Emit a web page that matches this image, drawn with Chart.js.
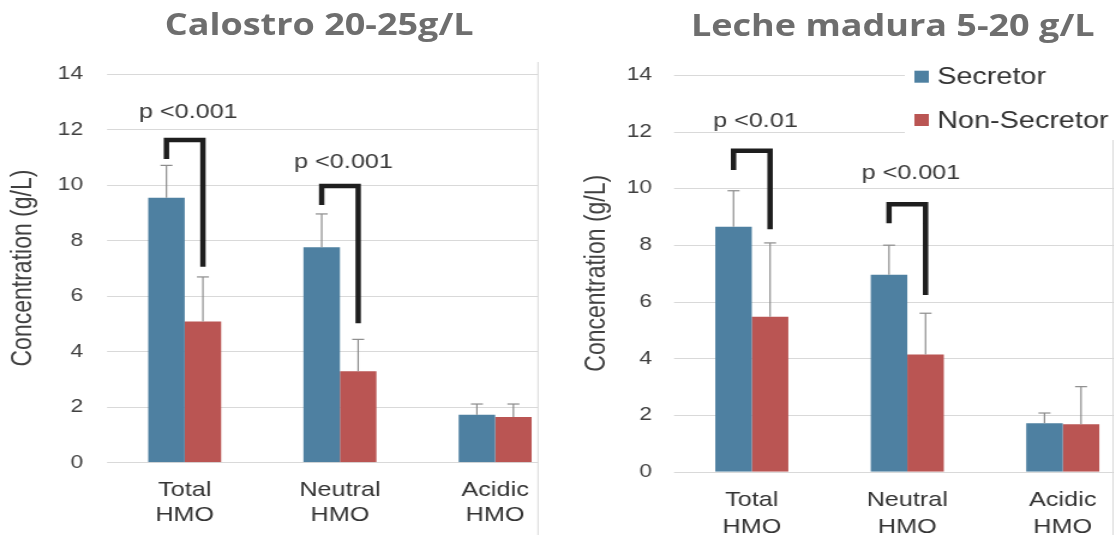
<!DOCTYPE html>
<html>
<head>
<meta charset="utf-8">
<script src="https://cdn.jsdelivr.net/npm/chart.js@4"></script>
<style>
  html, body { margin: 0; padding: 0; background: #fff; overflow: hidden; width: 1114px; height: 535px; }
  #wrap { position: absolute; left: 0; top: 0; width: 970px; height: 535px; transform: scaleX(1.2); transform-origin: 0 0; }
  canvas { position: absolute; top: 0; }
  .title { position: absolute; font-family: "Open Sans", sans-serif; font-weight: 700; font-size: 30px; line-height: 1; color: #6e6e6e; white-space: nowrap; transform: translateX(-50%); }
</style>
</head>
<body>
<div id="wrap">
  <canvas id="c1" width="480" height="535" style="left:0"></canvas>
  <canvas id="c2" width="500" height="535" style="left:470px"></canvas>
  <div class="title" style="left:266px; top:9px">Calostro 20-25g/L</div>
  <div class="title" style="left:744px; top:10px">Leche madura 5-20 g/L</div>
</div>
<script>
var categories = [["Total", "HMO"], ["Neutral", "HMO"], ["Acidic", "HMO"]];
var seriesNames = ["Secretor", "Non-Secretor"];
var yTicks = [0, 2, 4, 6, 8, 10, 12, 14];

// calostro
var calSecretor = [9.53, 7.75, 1.71];
var calNonSecretor = [5.07, 3.28, 1.63];
var calSecretorSD = [1.17, 1.2, 0.39];
var calNonSecretorSD = [1.61, 1.15, 0.47];
var calPText = ["p <0.001", "p <0.001"];
var calPY = [12.63, 10.83];
var calBracketTop = [11.61, 9.96];
var calBracketLeft = [10.93, 9.27];
var calBracketRight = [7.05, 5.01];

// leche madura
var matSecretor = [8.64, 6.95, 1.71];
var matNonSecretor = [5.47, 4.13, 1.67];
var matSecretorSD = [1.27, 1.04, 0.36];
var matNonSecretorSD = [2.6, 1.46, 1.33];
var matPText = ["p <0.01", "p <0.001"];
var matPY = [12.35, 10.53];
var matBracketTop = [11.32, 9.43];
var matBracketLeft = [10.64, 8.76];
var matBracketRight = [8.55, 6.23];

var blue = "#4e80a1";
var red = "#ba5553";
var font = "'Liberation Sans', Arial, sans-serif";

function line(ctx, x1, y1, x2, y2) {
  ctx.beginPath();
  ctx.moveTo(x1, y1);
  ctx.lineTo(x2, y2);
  ctx.stroke();
}

var extras = {
  id: "extras",
  beforeDatasetsDraw: function(chart, args, o) {
    var ctx = chart.ctx, y = chart.scales.y, area = chart.chartArea;
    ctx.save();
    ctx.strokeStyle = "#d9d9d9";
    ctx.lineWidth = 1;
    yTicks.forEach(function(v) {
      var py = Math.round(y.getPixelForValue(v)) + 0.5;
      line(ctx, area.left, py, o.gridEnd || chart.width, py);
    });
    line(ctx, o.frameX, o.frameTop, o.frameX, chart.height);
    ctx.restore();
  },
  afterDatasetsDraw: function(chart, args, o) {
    var ctx = chart.ctx, x = chart.scales.x, y = chart.scales.y;
    var m0 = chart.getDatasetMeta(0), m1 = chart.getDatasetMeta(1);
    ctx.save();
    // error bars
    ctx.strokeStyle = "#8c8c8c";
    ctx.lineWidth = 1.2;
    chart.data.datasets.forEach(function(ds, i) {
      chart.getDatasetMeta(i).data.forEach(function(bar, j) {
        var top = y.getPixelForValue(ds.data[j] + ds.sd[j]);
        line(ctx, bar.x, bar.y, bar.x, top);
        line(ctx, bar.x - 5, top, bar.x + 5, top);
      });
    });
    // brackets
    ctx.strokeStyle = "#1e1e1e";
    ctx.lineWidth = 4.5;
    ctx.lineJoin = "miter";
    o.bracketTop.forEach(function(t, j) {
      var xl = m0.data[j].x, xr = m1.data[j].x, yt = y.getPixelForValue(t);
      ctx.beginPath();
      ctx.moveTo(xl, y.getPixelForValue(o.bracketLeft[j]));
      ctx.lineTo(xl, yt);
      ctx.lineTo(xr, yt);
      ctx.lineTo(xr, y.getPixelForValue(o.bracketRight[j]));
      ctx.stroke();
    });
    // p values
    ctx.fillStyle = "#3a3a3a";
    ctx.font = "21px " + font;
    ctx.textAlign = "center";
    ctx.textBaseline = "middle";
    o.pText.forEach(function(t, j) {
      ctx.fillText(t, x.getPixelForValue(j) + 3, y.getPixelForValue(o.pY[j]));
    });
    // legend
    if (o.legend) {
      var L = o.legend;
      ctx.fillStyle = "#fff";
      ctx.fillRect(L.x, L.top, chart.width - L.x, L.height);
      ctx.font = "24px " + font;
      ctx.textAlign = "left";
      chart.data.datasets.forEach(function(ds, i) {
        var cy = L.rowY[i];
        ctx.fillStyle = ds.backgroundColor;
        ctx.fillRect(L.x + 8, cy - 6, 12, 12);
        ctx.fillStyle = "#333";
        ctx.fillText(ds.label, L.x + 27, cy + 1);
      });
    }
    ctx.restore();
  }
};

function makeChart(id, sec, non, secSD, nonSD, p) {
  return new Chart(document.getElementById(id), {
    type: "bar",
    data: {
      labels: categories,
      datasets: [
        { label: seriesNames[0], data: sec, sd: secSD, backgroundColor: blue },
        { label: seriesNames[1], data: non, sd: nonSD, backgroundColor: red }
      ]
    },
    options: {
      responsive: false,
      animation: false,
      layout: { padding: p.padding },
      plugins: { legend: { display: false }, tooltip: { enabled: false }, extras: p.extras },
      datasets: { bar: { categoryPercentage: 0.47, barPercentage: 1.0 } },
      scales: {
        x: {
          grid: { display: false, drawTicks: false },
          border: { display: false },
          ticks: { color: "#333", padding: p.xPad, maxRotation: 0, autoSkip: false,
                   font: { family: font, size: 21, lineHeight: p.xLine } },
          afterFit: function(s) { s.height = p.xHeight; }
        },
        y: {
          min: 0, max: 14,
          grid: { display: false, drawTicks: false },
          border: { display: false },
          ticks: { stepSize: 2, color: "#404040", padding: p.yPad, font: { family: font, size: 19 } },
          title: { display: true, text: "Concentration (g/L)", color: "#404040",
                   font: { family: font, size: 23 }, padding: { top: p.titlePad, bottom: 0 } },
          afterFit: function(s) { s.width = p.yWidth; }
        }
      }
    },
    plugins: [extras]
  });
}

makeChart("c1", calSecretor, calNonSecretor, calSecretorSD, calNonSecretorSD, {
  padding: { top: 73.8, right: 2.7, bottom: 0, left: 0 },
  xPad: 15.2, xLine: 1.19, xHeight: 72.7, yPad: 20, yWidth: 89.2, titlePad: 5.4,
  extras: { gridEnd: 448.3, frameX: 448.3, frameTop: 62,
            pText: calPText, pY: calPY,
            bracketTop: calBracketTop, bracketLeft: calBracketLeft, bracketRight: calBracketRight }
});

makeChart("c2", matSecretor, matNonSecretor, matSecretorSD, matNonSecretorSD, {
  padding: { top: 74.8, right: 19.6, bottom: 0, left: 0 },
  xPad: 14.8, xLine: 1.286, xHeight: 63.3, yPad: 18.4, yWidth: 91.7, titlePad: 13.7,
  extras: { frameX: 457.5, frameTop: 140,
            pText: matPText, pY: matPY,
            bracketTop: matBracketTop, bracketLeft: matBracketLeft, bracketRight: matBracketRight,
            legend: { x: 284, top: 58, height: 82, rowY: [76.7, 120] } }
});
</script>
</body>
</html>
